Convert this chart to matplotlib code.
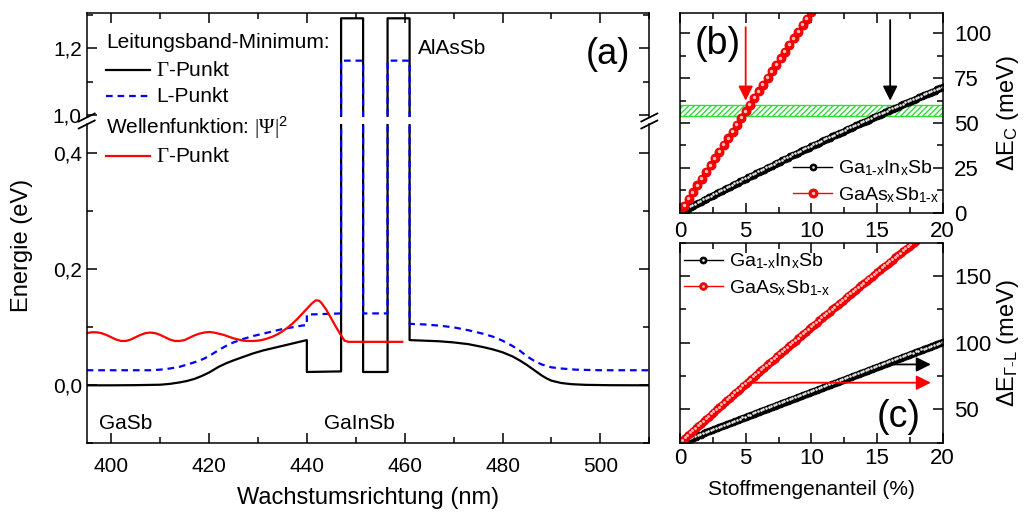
import numpy as np
import matplotlib
matplotlib.use('Agg')
from matplotlib import pyplot as plt
from matplotlib.ticker import FixedLocator, MultipleLocator
from matplotlib.lines import Line2D
from matplotlib.transforms import offset_copy

plt.rcParams['font.family'] = ['Liberation Sans', 'DejaVu Sans']
plt.rcParams['font.size'] = 15
plt.rcParams['mathtext.fontset'] = 'custom'
plt.rcParams['mathtext.rm'] = 'Liberation Serif'
plt.rcParams['mathtext.it'] = 'Liberation Serif:italic'
plt.rcParams['mathtext.sf'] = 'Liberation Sans'
plt.rcParams['axes.linewidth'] = 1.1

# conduction band edges along growth direction (nm, eV)
gamma_x = [395, 400, 405, 410, 412, 414, 415.5, 417, 418.5, 420, 421, 422, 423.5, 425,
           427, 429, 431, 433, 435, 437, 439, 440, 440, 447, 447, 451.5, 451.5, 456.5,
           456.5, 461, 461, 464, 467, 470, 473, 476, 478, 480, 482, 483.5, 485, 486, 487,
           488, 489, 490, 492, 494, 497, 502, 510]
gamma_y = [0.0, 0.0, 0.0003, 0.001, 0.0025, 0.005, 0.0075, 0.011, 0.016, 0.022, 0.027,
           0.032, 0.038, 0.043, 0.049, 0.055, 0.060, 0.064, 0.068, 0.072, 0.076, 0.078,
           0.023, 0.024, 1.29, 1.29, 0.023, 0.023, 1.29, 1.29, 0.078, 0.077, 0.076, 0.074,
           0.071, 0.066, 0.062, 0.057, 0.050, 0.043, 0.035, 0.029, 0.023, 0.017, 0.012,
           0.008, 0.004, 0.002, 0.0008, 0.0002, 0.0]
l_x = [395, 408, 410, 412, 414, 416, 417.5, 419, 420.5, 422, 423.5, 425, 427, 429, 431,
       433, 435, 437, 439, 440, 440, 447, 447, 451.5, 451.5, 456.5, 456.5, 461, 461, 464,
       467, 470, 473, 476, 478, 480, 482, 483.5, 485, 486.5, 488, 490, 492, 495, 500, 510]
l_y = [0.026, 0.026, 0.027, 0.029, 0.032, 0.037, 0.041, 0.046, 0.053, 0.061, 0.068,
       0.074, 0.080, 0.085, 0.089, 0.093, 0.097, 0.100, 0.103, 0.104, 0.122, 0.124, 1.163,
       1.163, 0.124, 0.124, 1.163, 1.163, 0.106, 0.105, 0.103, 0.100, 0.095, 0.089, 0.084,
       0.077, 0.068, 0.060, 0.050, 0.042, 0.036, 0.031, 0.029, 0.027, 0.026, 0.026]
psi_x = [395, 396, 397, 398, 399, 400, 401, 402, 403, 404, 405, 406, 407, 408, 409, 410,
         411, 412, 413, 414, 415, 416, 417, 418, 419, 420, 421, 422, 423, 424, 425, 426,
         427, 428, 429, 430, 431, 432, 433, 434, 435, 436, 437, 438, 439, 440, 441, 441.8,
         442.5, 443, 444, 445, 446, 447, 447.7, 448.5, 459.5]
psi_y = [0.090, 0.0915, 0.0915, 0.090, 0.087, 0.083, 0.079, 0.0765, 0.0765, 0.079, 0.083,
         0.087, 0.090, 0.091, 0.090, 0.087, 0.083, 0.079, 0.0765, 0.0765, 0.078, 0.082,
         0.086, 0.089, 0.091, 0.092, 0.091, 0.089, 0.087, 0.084, 0.081, 0.079, 0.077,
         0.0765, 0.0765, 0.077, 0.0785, 0.081, 0.084, 0.088, 0.093, 0.099, 0.106, 0.114,
         0.123, 0.132, 0.141, 0.1465, 0.146, 0.142, 0.130, 0.115, 0.100, 0.086, 0.077,
         0.075, 0.075]

# band offsets vs. mole fraction (%)
frac = np.round(np.arange(0, 20.01, 0.2), 1)
frac_b = np.round(np.arange(0, 10.4, 1 / 3), 2)
dec_gainsb = [0.0, 0.8, 1.6, 2.3, 3.1, 3.9, 4.7, 5.4, 6.2, 7.0, 7.7, 8.5, 9.2, 10.0, 10.8,
              11.5, 12.3, 13.0, 13.8, 14.5, 15.3, 16.0, 16.8, 17.5, 18.3, 19.0, 19.7, 20.5,
              21.2, 22.0, 22.7, 23.4, 24.1, 24.9, 25.6, 26.3, 27.0, 27.8, 28.5, 29.2, 29.9,
              30.6, 31.4, 32.1, 32.8, 33.5, 34.2, 34.9, 35.6, 36.3, 37.0, 37.7, 38.4, 39.1,
              39.8, 40.5, 41.2, 41.9, 42.6, 43.2, 43.9, 44.6, 45.3, 46.0, 46.6, 47.3, 48.0,
              48.7, 49.3, 50.0, 50.7, 51.4, 52.0, 52.7, 53.3, 54.0, 54.7, 55.3, 56.0, 56.6,
              57.3, 57.9, 58.6, 59.2, 59.9, 60.5, 61.2, 61.8, 62.4, 63.1, 63.7, 64.4, 65.0,
              65.6, 66.3, 66.9, 67.5, 68.1, 68.8, 69.4, 70.0]
dec_gaassb = [0.0, 3.8, 7.6, 11.4, 15.2, 18.9, 22.7, 26.5, 30.3, 34.0, 37.8, 41.5, 45.3,
              49.0, 52.8, 56.5, 60.2, 64.0, 67.7, 71.4, 75.1, 78.8, 82.5, 86.2, 89.9, 93.6,
              97.3, 101.0, 104.7, 108.3, 112.0, 115.7]
dgl_gainsb = [25.0, 25.8, 26.5, 27.3, 28.1, 28.8, 29.6, 30.4, 31.1, 31.9, 32.7, 33.4, 34.2,
              35.0, 35.7, 36.5, 37.3, 38.0, 38.8, 39.6, 40.3, 41.1, 41.8, 42.6, 43.4, 44.1,
              44.9, 45.6, 46.4, 47.2, 47.9, 48.7, 49.4, 50.2, 51.0, 51.7, 52.5, 53.2, 54.0,
              54.7, 55.5, 56.3, 57.0, 57.8, 58.5, 59.3, 60.0, 60.8, 61.5, 62.3, 63.0, 63.8,
              64.5, 65.3, 66.0, 66.8, 67.5, 68.3, 69.0, 69.8, 70.5, 71.3, 72.0, 72.8, 73.5,
              74.3, 75.0, 75.7, 76.5, 77.2, 78.0, 78.7, 79.5, 80.2, 81.0, 81.7, 82.5, 83.2,
              84.0, 84.7, 85.5, 86.2, 87.0, 87.7, 88.4, 89.2, 89.9, 90.7, 91.4, 92.1, 92.9,
              93.6, 94.4, 95.1, 95.8, 96.6, 97.3, 98.1, 98.8, 99.5, 100.3]
dgl_gaassb = [25.0, 26.8, 28.6, 30.4, 32.2, 34.0, 35.7, 37.5, 39.3, 41.1, 42.8, 44.6, 46.4,
              48.1, 49.9, 51.6, 53.4, 55.2, 56.9, 58.7, 60.4, 62.2, 63.9, 65.6, 67.4, 69.1,
              70.8, 72.6, 74.3, 76.0, 77.7, 79.5, 81.2, 82.9, 84.6, 86.3, 88.0, 89.7, 91.4,
              93.1, 94.8, 96.5, 98.2, 99.9, 101.6, 103.3, 105.0, 106.7, 108.3, 110.0, 111.7,
              113.4, 115.0, 116.7, 118.4, 120.0, 121.7, 123.3, 125.0, 126.6, 128.3, 129.9,
              131.6, 133.2, 134.9, 136.5, 138.1, 139.8, 141.4, 143.0, 144.6, 146.3, 147.9,
              149.5, 151.1, 152.7, 154.3, 155.9, 157.5, 159.1, 160.7, 162.3, 163.9, 165.5,
              167.1, 168.7, 170.3, 171.8, 173.4, 175.0, 176.6]
band_lo, band_hi = 54.0, 60.0

W, H = 1029, 512
fig = plt.figure(figsize=(W / 100, H / 100), dpi=100)


def box(x0, y0, x1, y1):
    # pixel box -> figure fraction rectangle
    return [x0 / W, 1 - y1 / H, (x1 - x0) / W, (y1 - y0) / H]


def tickstyle(ax, **kw):
    ax.tick_params(which='both', direction='in', width=1.1, **kw)
    ax.tick_params(which='major', length=7)
    ax.tick_params(which='minor', length=4)


# ---- (a) band profile with broken energy axis
ax_hi = fig.add_axes(box(86.7, 13.3, 649.3, 117))
ax_lo = fig.add_axes(box(86.7, 124.4, 649.3, 443.3))
for ax in (ax_hi, ax_lo):
    ax.plot(gamma_x, gamma_y, color='black', lw=1.6)
    ax.plot(l_x, l_y, color='blue', lw=1.6, ls=(0, (3, 2.2)))
    ax.set_xlim(395, 510)
    ax.xaxis.set_major_locator(MultipleLocator(20))
    ax.xaxis.set_minor_locator(MultipleLocator(10))
ax_lo.plot(psi_x, psi_y, color='red', lw=1.6)

ax_hi.set_ylim(0.994, 1.305)
ax_hi.yaxis.set_major_locator(FixedLocator([1.0, 1.2]))
ax_hi.yaxis.set_minor_locator(FixedLocator([1.1, 1.3]))
ax_hi.set_yticklabels(['1,0', '1,2'])
ax_hi.spines['bottom'].set_visible(False)
tickstyle(ax_hi, top=True, right=True, bottom=False, labelbottom=False)

ax_lo.set_ylim(-0.1, 0.45)
ax_lo.yaxis.set_major_locator(FixedLocator([0.0, 0.2, 0.4]))
ax_lo.yaxis.set_minor_locator(FixedLocator([-0.1, 0.1, 0.3]))
ax_lo.set_yticklabels(['0,0', '0,2', '0,4'])
ax_lo.spines['top'].set_visible(False)
tickstyle(ax_lo, top=False, right=True)
ax_lo.tick_params(axis='x', pad=10)
ax_lo.set_xlabel('Wachstumsrichtung (nm)', fontsize=17, labelpad=8)
fig.text(22 / W, 1 - 245 / H, 'Energie (eV)', fontsize=17, rotation=90,
         ha='center', va='center')

# axis break marks
for xb in (86.7, 649.3):
    for yb in (117.5, 124.5):
        fig.add_artist(Line2D([(xb - 8) / W, (xb + 8) / W],
                              [1 - (yb + 4) / H, 1 - (yb - 4) / H],
                              color='black', lw=1.3))

ax_lo.text(397.5, -0.065, 'GaSb', fontsize=15, va='center')
ax_lo.text(443.5, -0.065, 'GaInSb', fontsize=15, va='center')
ax_hi.text(462.8, 1.2, 'AlAsSb', fontsize=15, va='center')
ax_hi.text(501.5, 1.18, '(a)', fontsize=26, ha='center', va='center')

# legend of panel (a)
leg_x0, leg_x1, leg_tx = 106, 150, 156
fig.text(leg_x0 / W, 1 - 43 / H, 'Leitungsband-Minimum:', fontsize=15, va='center')
fig.add_artist(Line2D([leg_x0 / W, leg_x1 / W], [1 - 70 / H] * 2, color='black', lw=1.6))
fig.text(leg_tx / W, 1 - 70 / H, r'$\Gamma$-Punkt', fontsize=15, va='center')
fig.add_artist(Line2D([leg_x0 / W, leg_x1 / W], [1 - 96 / H] * 2, color='blue', lw=1.6,
                      ls=(0, (3, 2.2))))
fig.text(leg_tx / W, 1 - 96 / H, 'L-Punkt', fontsize=15, va='center')
fig.text(leg_x0 / W, 1 - 128 / H, r'Wellenfunktion: $|\Psi|^{\mathsf{2}}$', fontsize=15,
         va='center')
fig.add_artist(Line2D([leg_x0 / W, leg_x1 / W], [1 - 156 / H] * 2, color='red', lw=1.6))
fig.text(leg_tx / W, 1 - 156 / H, r'$\Gamma$-Punkt', fontsize=15, va='center')


# ---- (b) and (c) offsets vs. composition
def beads(ax, x, y, color, edge, glow, size):
    base, = ax.plot(x, y, color=color, lw=1.0, marker='o', ms=size, mfc=color,
                    mec=edge, mew=0.6)
    # small highlight shifted up-left gives the shaded-ball look
    lit = offset_copy(ax.transData, fig=fig, x=-0.7, y=0.7, units='dots')
    shine, = ax.plot(x, y, ls='none', marker='o', ms=size * 0.38, mfc=glow, mec='none',
                     transform=lit)
    return (base, shine)


def arrow(ax, start, end, color):
    ax.annotate('', xy=end, xytext=start,
                arrowprops=dict(arrowstyle='-|>', color=color, lw=1.3,
                                mutation_scale=22, shrinkA=0, shrinkB=0))


lbl_in = r'Ga$_{\mathsf{1\text{-}x}}$In$_{\mathsf{x}}$Sb'
lbl_as = r'GaAs$_{\mathsf{x}}$Sb$_{\mathsf{1\text{-}x}}$'
leg_kw = dict(frameon=False, fontsize=14, handlelength=2.0, handletextpad=0.3,
              labelspacing=0.35, borderaxespad=0.0, borderpad=0.2, numpoints=1)

ax_b = fig.add_axes(box(680, 12.7, 942.7, 212.7))
ax_b.axhspan(band_lo, band_hi, facecolor='none', edgecolor='#33dd33', hatch='//////',
             lw=1.0)
h_in = beads(ax_b, frac, dec_gainsb, 'black', 'black', '#e8e8e8', 5)
h_as = beads(ax_b, frac_b, dec_gaassb, 'red', '#dd0000', '#ffc0c0', 6.5)
arrow(ax_b, (5, 103.5), (5, 62.5), 'red')
arrow(ax_b, (16, 107.5), (16, 62.5), 'black')
ax_b.set_xlim(0, 20)
ax_b.set_ylim(0, 111.6)
ax_b.xaxis.set_major_locator(MultipleLocator(5))
ax_b.xaxis.set_minor_locator(MultipleLocator(2.5))
ax_b.yaxis.set_major_locator(MultipleLocator(25))
ax_b.yaxis.set_minor_locator(MultipleLocator(12.5))
tickstyle(ax_b, top=True, right=True, labelleft=False, labelright=True)
ax_b.tick_params(labelsize=16)
ax_b.tick_params(axis='y', pad=8)
ax_b.tick_params(axis='x', pad=6)
ax_b.yaxis.set_label_position('right')
ax_b.set_ylabel(r'$\mathsf{\Delta}$E$_{\mathsf{C}}$ (meV)', fontsize=17, labelpad=3)
ax_b.text(0.145, 0.845, '(b)', transform=ax_b.transAxes, fontsize=27, ha='center',
          va='center')
ax_b.legend([h_in, h_as], [lbl_in, lbl_as], loc='lower right',
            bbox_to_anchor=(1.0, 0.02), **leg_kw)

ax_c = fig.add_axes(box(680, 242.7, 942.7, 442.7))
h_in = beads(ax_c, frac, dgl_gainsb, 'black', 'black', '#e8e8e8', 5)
h_as = beads(ax_c, frac[:len(dgl_gaassb)], dgl_gaassb, 'red', '#dd0000', '#ffc0c0', 5.5)
arrow(ax_c, (16.2, 83.7), (19.1, 83.7), 'black')
arrow(ax_c, (5.2, 70.0), (19.1, 70.0), 'red')
ax_c.set_xlim(0, 20)
ax_c.set_ylim(25, 175)
ax_c.xaxis.set_major_locator(MultipleLocator(5))
ax_c.xaxis.set_minor_locator(MultipleLocator(2.5))
ax_c.yaxis.set_major_locator(FixedLocator([50, 100, 150]))
ax_c.yaxis.set_minor_locator(FixedLocator([25, 75, 125, 175]))
tickstyle(ax_c, top=True, right=True, labelleft=False, labelright=True)
ax_c.tick_params(labelsize=16)
ax_c.tick_params(axis='y', pad=8)
ax_c.yaxis.set_label_position('right')
ax_c.set_ylabel(r'$\mathsf{\Delta}$E$_{\mathsf{\Gamma\text{-}L}}$ (meV)', fontsize=17,
                labelpad=3)
ax_c.set_xlabel('Stoffmengenanteil (%)', fontsize=15, labelpad=8)
ax_c.text(0.834, 0.13, '(c)', transform=ax_c.transAxes, fontsize=27, ha='center',
          va='center')
ax_c.legend([h_in, h_as], [lbl_in, lbl_as], loc='upper left',
            bbox_to_anchor=(0.0, 0.975), **leg_kw)

fig.savefig('out.png', dpi=100)
